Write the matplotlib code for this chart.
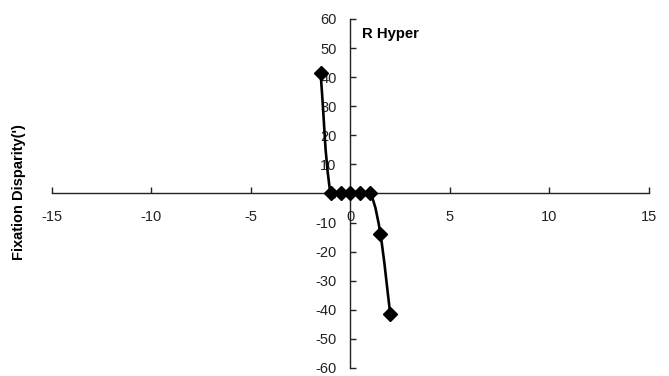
import numpy as np
import matplotlib
matplotlib.use("Agg")
import matplotlib.pyplot as plt
from matplotlib.path import Path
from matplotlib.patches import PathPatch

plt.rcParams['font.family'] = ['Liberation Sans', 'DejaVu Sans']
plt.rcParams['axes.unicode_minus'] = False

x_vals = [-1.5, -1.0, -0.5, 0.0, 0.5, 1.0, 1.5, 2.0]
y_vals = [41.5, 0.0, 0.0, 0.0, 0.0, 0.0, -13.8, -41.5]
x_ticks = [-15, -10, -5, 0, 5, 10, 15]
y_ticks = [-60, -50, -40, -30, -20, -10, 0, 10, 20, 30, 40, 50, 60]
title_text = "R Hyper"
y_label = "Fixation Disparity(')"

fig = plt.figure(figsize=(6.69, 3.76), dpi=100)
ax = fig.add_axes([0.0777, 0.0213, 0.8923, 0.9282])
ax.set_xlim(-15, 15)
ax.set_ylim(-60, 60)

# smoothed line drawn in display space (spreadsheet-style smoothing)
disp = ax.transData.transform(np.column_stack([x_vals, y_vals]))
n = len(disp)
k = 0.3
tang = []
for i in range(n):
    a = disp[i - 1] if i > 0 else disp[i]
    b = disp[i + 1] if i < n - 1 else disp[i]
    d = b - a
    nd = np.hypot(*d)
    tang.append(d / nd if nd > 0 else np.zeros(2))
verts = [disp[0]]
codes = [Path.MOVETO]
for i in range(n - 1):
    p1, p2 = disp[i], disp[i + 1]
    L = np.hypot(*(p2 - p1))
    verts += [p1 + tang[i] * L * k, p2 - tang[i + 1] * L * k, p2]
    codes += [Path.CURVE4] * 3
verts_data = ax.transData.inverted().transform(np.array(verts))
ax.add_patch(PathPatch(Path(verts_data, codes), fill=False, edgecolor='black',
                       lw=1.9, zorder=3))
ax.plot(x_vals, y_vals, linestyle='none', marker='D', markersize=7, color='black', zorder=4)

for s in ['top', 'right']:
    ax.spines[s].set_visible(False)
ax.spines['left'].set_position(('data', 0))
ax.spines['bottom'].set_position(('data', 0))
for s in ['left', 'bottom']:
    ax.spines[s].set_color('#222222')
    ax.spines[s].set_linewidth(1.0)

ax.set_xticks(x_ticks)
ax.set_yticks(y_ticks)
ax.set_xticklabels([str(t) for t in x_ticks])
ax.set_yticklabels([str(t) for t in y_ticks])
ax.tick_params(axis='x', direction='in', length=4, width=1, pad=12, labelsize=10.5, colors='#222222')
ax.tick_params(axis='y', direction='in', length=4, width=1, pad=10, labelsize=10.5, colors='#222222')
for lab in ax.get_xticklabels() + ax.get_yticklabels():
    lab.set_color('#222222')

ax.text(0.52, 0.957, title_text, transform=ax.transAxes, fontsize=10.7, fontweight='bold',
        ha='left', va='center')
fig.text(0.029, 0.49, y_label, rotation=90, fontsize=10.5, fontweight='bold',
         ha='center', va='center')

fig.savefig("out.png", dpi=100)
